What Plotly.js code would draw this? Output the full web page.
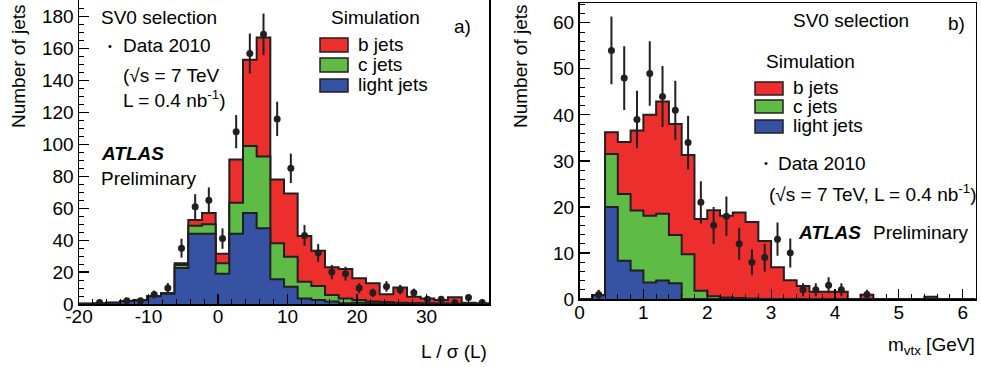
<!DOCTYPE html>
<html><head><meta charset="utf-8">
<script src="https://cdn.plot.ly/plotly-3.0.1.min.js"></script>
<style>html,body{margin:0;padding:0;background:#fff}#chart{width:981px;height:367px}</style>
</head><body><div id="chart"></div>
<script>
// ---------- Panel a) : L / sigma(L), 30 bins from -20 to 39 ----------
const lsigBinLow = -20;
const lsigBinWidth = 59 / 30;
const lsigLight  = [0.1, 0.3, 0.8, 1.9, 2.4, 4.9, 6.5, 22.5, 44, 44, 19, 44, 57, 47.5, 15.5, 10.8, 3.5, 2.5, 1.5, 0.5, 0.8, 0.5, 0.3, 0.2, 0.1, 0.1, 0.1, 0, 0, 0];
const lsigCharm  = [0, 0, 0, 0, 0.1, 0.1, 0.2, 2, 5, 6, 6.5, 19.5, 42, 45, 22.5, 18.8, 10.5, 8.8, 4.1, 3, 1.7, 1, 0.9, 0.6, 0.5, 0.3, 0.2, 0.2, 0.1, 0];
const lsigBottom = [0, 0, 0, 0, 0, 0, 0, 1, 3.6, 7, 6, 27, 54, 74.5, 40, 39.7, 28.6, 22.1, 17.4, 18.4, 13.6, 11.5, 4.9, 9.6, 4.0, 3.1, 2.2, 4.0, 0.7, 0.5];
const lsigData   = [null, 1, null, 2, 2, 6, 10, 35, 61, 65, 41, 108, 157, 169, 116, 85, 43, 32, 20, 19, 10, 7, 11, 9, 7, 3, 3, 1, 4, 1];
const lsigTickVals = [-20, -10, 0, 10, 20, 30];
const lsigTickText = ["-20", "-10", "0", "10", "20", "30"];

// ---------- Panel b) : m_vtx [GeV], 31 bins of 0.2 GeV from 0 ----------
const mvtxBinLow = 0;
const mvtxBinWidth = 0.2;
const mvtxLight  = [0, 0.8, 20, 8.3, 6.2, 3.6, 4.0, 3.4, 0, 0, 0, 0, 0, 0, 0, 0, 0, 0, 0, 0, 0, 0, 0, 0, 0, 0, 0, 0, 0, 0, 0];
const mvtxCharm  = [0, 0, 11.5, 14.5, 13, 14.5, 14.5, 10.5, 9.7, 1.8, 0.6, 0.3, 0.2, 0.1, 0, 0, 0, 0, 0, 0, 0, 0, 0, 0, 0, 0, 0, 0, 0, 0, 0];
const mvtxBottom = [0, 0, 4.7, 11.3, 17.4, 21.9, 24.4, 24.1, 21.6, 15.6, 18.7, 17.8, 18.6, 16.6, 12.6, 6.9, 4.1, 2.8, 1.6, 1.6, 1.6, 0, 0.9, 0, 0, 0, 0, 0.5, 0, 0, 0];
const mvtxData   = [null, 1, 54, 48, 39, 49, 44, 41, 34, 21, 16, 18, 12, 8, 9, 13, 10, 2, 2, 3, 2, null, 1, null, null, null, null, null, null, null, null];

// text
const legendTitle = "Simulation";
const flavourLabels = ["b jets", "c jets", "light jets"];
const yTitle = "Number of jets";

const RED = "#ec2f2d", GREEN = "#5dbb46", BLUE = "#3652a2", INK = "#231f20";
const FONT = "Liberation Sans, Arial, Helvetica, sans-serif";
const W = 981, H = 367;
const px = v => v / W, py = v => 1 - v / H;

function sum(...arrs) { return arrs[0].map((_, i) => arrs.reduce((s, a) => s + a[i], 0)); }

function stepTrace(lo, w, vals, color, xa, ya) {
  const x = [lo], y = [0];
  vals.forEach((v, i) => { x.push(lo + i * w); y.push(v); });
  x.push(lo + vals.length * w); y.push(vals[vals.length - 1]);
  x.push(lo + vals.length * w); y.push(0);
  return { type: "scatter", mode: "lines", x, y, xaxis: xa, yaxis: ya,
    line: { shape: "hv", color: INK, width: 2 }, fill: "tozeroy", fillcolor: color,
    hoverinfo: "skip", showlegend: false };
}
function dataTrace(lo, w, vals, xa, ya) {
  return { type: "scatter", mode: "markers", x: vals.map((_, i) => lo + (i + 0.5) * w), y: vals,
    xaxis: xa, yaxis: ya, marker: { size: 7, color: INK },
    error_y: { type: "sqrt", visible: true, color: INK, thickness: 2, width: 0 }, showlegend: false };
}

const traces = [
  stepTrace(lsigBinLow, lsigBinWidth, sum(lsigLight, lsigCharm, lsigBottom), RED, "x", "y"),
  stepTrace(lsigBinLow, lsigBinWidth, sum(lsigLight, lsigCharm), GREEN, "x", "y"),
  stepTrace(lsigBinLow, lsigBinWidth, lsigLight, BLUE, "x", "y"),
  dataTrace(lsigBinLow, lsigBinWidth, lsigData, "x", "y"),
  stepTrace(mvtxBinLow, mvtxBinWidth, sum(mvtxLight, mvtxCharm, mvtxBottom), RED, "x2", "y2"),
  stepTrace(mvtxBinLow, mvtxBinWidth, sum(mvtxLight, mvtxCharm), GREEN, "x2", "y2"),
  stepTrace(mvtxBinLow, mvtxBinWidth, mvtxLight, BLUE, "x2", "y2"),
  dataTrace(mvtxBinLow, mvtxBinWidth, mvtxData, "x2", "y2"),
];

function axis(extra) {
  return Object.assign({ showgrid: false, zeroline: false, showline: true, mirror: true,
    linecolor: "#000", linewidth: 1.5, ticks: "inside", ticklen: 10, tickwidth: 1.2, tickcolor: "#000",
    tickfont: { family: FONT, size: 19, color: "#000" } }, extra);
}
const minor = (d) => ({ ticks: "inside", ticklen: 5, tickwidth: 1, tickcolor: "#000", dtick: d, tick0: 0, showgrid: false });

const fnt = (s) => ({ family: FONT, size: s || 19, color: "#000" });
const annotations = [];
function txt(x, y, text, o) {
  annotations.push(Object.assign({ xref: "paper", yref: "paper", x: px(x), y: py(y), text,
    showarrow: false, xanchor: "left", yanchor: "middle", font: fnt(), borderpad: 0 }, o || {}));
}
const shapes = [];
function box(x0, y0, x1, y1, color) {
  shapes.push({ type: "rect", xref: "paper", yref: "paper", x0: px(x0), x1: px(x1), y0: py(y1), y1: py(y0),
    fillcolor: color, line: { color: INK, width: 1.5 } });
}

// axis titles
txt(18, 3, yTitle, { textangle: -90, xanchor: "center", yanchor: "top" });
txt(520, 3, yTitle, { textangle: -90, xanchor: "center", yanchor: "top" });
txt(488, 351, "L / σ (L)", { xanchor: "right" });
txt(976, 346, "m<sub>vtx</sub> [GeV]", { xanchor: "right" });

// panel a texts
txt(100, 17.5, "SV0 selection");
txt(110, 46, "•", { xanchor: "center", font: fnt(11) });
txt(122, 46, "Data 2010");
txt(122, 75, "(√s = 7 TeV");
txt(122, 99.5, "L = 0.4 nb<sup>-1</sup>)");
txt(100, 153, "<b><i>ATLAS</i></b>");
txt(100, 178.5, "Preliminary");
txt(330, 17.5, legendTitle);
const cols = [RED, GREEN, BLUE];
[[38, 52, 44], [58, 72, 64], [79, 92, 85]].forEach((r, i) => { box(320, r[0], 348, r[1], cols[i]); txt(357, r[2], flavourLabels[i]); });
txt(453, 26, "a)");

// panel b texts
txt(792, 21, "SV0 selection");
txt(947, 24, "b)");
txt(765, 61, legendTitle);
[[82, 95, 87], [100, 113, 106], [120, 133, 126]].forEach((r, i) => { box(755, r[0], 783, r[1], cols[i]); txt(792, r[2], flavourLabels[i]); });
txt(766, 163, "•", { xanchor: "center", font: fnt(11) });
txt(777, 164, "Data 2010");
txt(768, 193, "(√s = 7 TeV, L = 0.4 nb<sup>-1</sup>)");
txt(797, 232, "<b><i>ATLAS</i></b>");
txt(872, 232, "Preliminary");

const layout = {
  width: W, height: H, margin: { l: 0, r: 0, t: 0, b: 0 }, paper_bgcolor: "#fff", plot_bgcolor: "#fff",
  showlegend: false, font: fnt(),
  xaxis: axis({ domain: [px(79), px(489)], range: [-20, 39], anchor: "y", tickmode: "array",
    tickvals: lsigTickVals, ticktext: lsigTickText, ticklabelstandoff: -5, minor: minor(2) }),
  yaxis: axis({ domain: [py(304), 1], range: [0, 190.5], anchor: "x", tick0: 0, dtick: 20, minor: minor(5) }),
  xaxis2: axis({ domain: [px(579.5), px(975.5)], range: [0, 6.2], anchor: "y2", tick0: 0, dtick: 1,
    ticklabelstandoff: -4, minor: minor(0.2) }),
  yaxis2: axis({ domain: [py(299), py(3)], range: [0, 64.3], anchor: "x2", tick0: 0, dtick: 10, minor: minor(2) }),
  annotations, shapes
};
Plotly.newPlot("chart", traces, layout, { staticPlot: true, displayModeBar: false });
</script></body></html>
